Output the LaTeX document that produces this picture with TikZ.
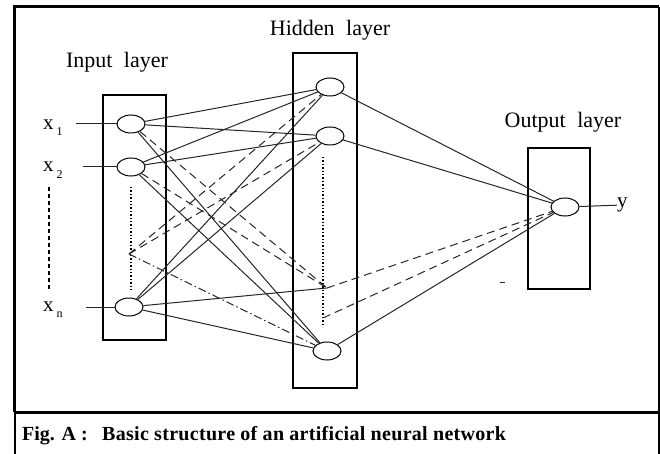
\documentclass[tikz,border=0pt]{standalone}
\usepackage{fontspec}
\setmainfont{Liberation Serif}
\usetikzlibrary{shapes.geometric}
\tikzset{
  neuron/.style={ellipse, draw, line width=1pt, minimum width=28pt, minimum height=18pt, inner sep=0pt},
  layerbox/.style={draw, line width=1.4pt, inner sep=0pt},
  layertext/.style={font=\fontsize{22}{24}\selectfont, inner sep=0pt},
  varlabel/.style={font=\fontsize{21}{22}\selectfont, inner sep=0pt},
  captext/.style={anchor=base west, inner sep=0pt, font=\bfseries\fontsize{20}{21}\selectfont},
  link/.style={line width=1pt, draw=black!85},
  dlink/.style={link, dash pattern=on 8pt off 5pt},
  dclink/.style={link, dash pattern=on 8pt off 3pt on 1.5pt off 3pt},
}
\newcommand{\lowidx}[1]{\hspace{3pt}\raisebox{-6pt}{\fontsize{12}{12}\selectfont #1}}
\begin{document}
\begin{tikzpicture}[x=1pt, y=-1pt]
    \useasboundingbox (0,0) rectangle (660,454);
    % frame and caption box
    \draw[line width=3pt] (14,412) -- (14,7) -- (659,7);
    \draw[line width=3pt] (14,412) -- (659,412);
    \draw[line width=1.2pt] (659,7) -- (659,454);
    \draw[line width=1.5pt] (15,412) -- (15,454);
    \node[captext] (fig) at (22,440) {Fig. A :};
    \node[captext, font=\bfseries\fontsize{20}{21}\selectfont\addfontfeature{LetterSpace=1.5}] (caption) at (102,440) {Basic structure of an artificial neural network};
    % layer boxes
    \node[layerbox, minimum width=63pt, minimum height=245pt] (inbox) at (134.5,217.5) {};
    \node[layerbox, minimum width=64pt, minimum height=335pt] (hidbox) at (325,220.5) {};
    \node[layerbox, minimum width=62pt, minimum height=141pt] (outbox) at (559,218.5) {};
    \node[layertext] (tin) at (117,62) {Input\hspace{6pt} layer};
    \node[layertext] (thid) at (330,30) {Hidden\hspace{6pt} layer};
    \node[layertext] (tout) at (563,122) {Output\hspace{6pt} layer};
    % neurons
    \node[neuron] (x1) at (131,124) {};
    \node[neuron] (x2) at (131,167) {};
    \node[neuron] (xn) at (129,307) {};
    \node[neuron] (h1) at (330,87) {};
    \node[neuron] (h2) at (330,136) {};
    \node[neuron] (hm) at (327,351) {};
    \node[neuron] (out) at (565,207) {};
    \coordinate (id) at (129,254);
    \coordinate (hd) at (327,288);
    \coordinate (hd2) at (323,318);
    % inputs and output
    \node[varlabel, anchor=base west] (lx1) at (43,130) {x\lowidx{1}};
    \node[varlabel, anchor=base west] (lx2) at (43,172) {x\lowidx{2}};
    \node[varlabel, anchor=base west] (lxn) at (43,311) {x\lowidx{n}};
    \node[varlabel, anchor=west] (ly) at (617,205) {y};
    \coordinate (in1) at (76,124);
    \coordinate (in2) at (83,167);
    \coordinate (inn) at (86,307);
    \draw[link] (in1) -- (x1);
    \draw[link] (in2) -- (x2);
    \draw[link] (inn) -- (xn);
    \draw[link] (out) -- (ly);
    % elided neurons
    \draw[line width=1.8pt, dash pattern=on 4pt off 3pt] (49,187) -- (49,290);
    \draw[line width=1.4pt, dotted] (131,187) -- (131,290);
    \draw[line width=1.4pt, dotted] (323,157) -- (323,327);
    % input to hidden
    \foreach \i in {x1,x2,xn}
      \foreach \j in {h1,h2,hm}
        \draw[link] (\i) -- (\j);
    \draw[link] (xn) -- (hd);
    \draw[dlink] (x1) -- (hd);
    \draw[dlink] (x2) -- (hd);
    \draw[dlink] (id) -- (h1);
    \draw[dlink] (id) -- (h2);
    \draw[dclink] (id) -- (hm);
    % hidden to output
    \foreach \j in {h1,h2,hm}
      \draw[link] (\j) -- (out);
    \draw[dlink] (hd) -- (out);
    \draw[dlink] (hd2) -- (out);
    \draw[link] (500,282) -- (505,282);
\end{tikzpicture}
\end{document}
